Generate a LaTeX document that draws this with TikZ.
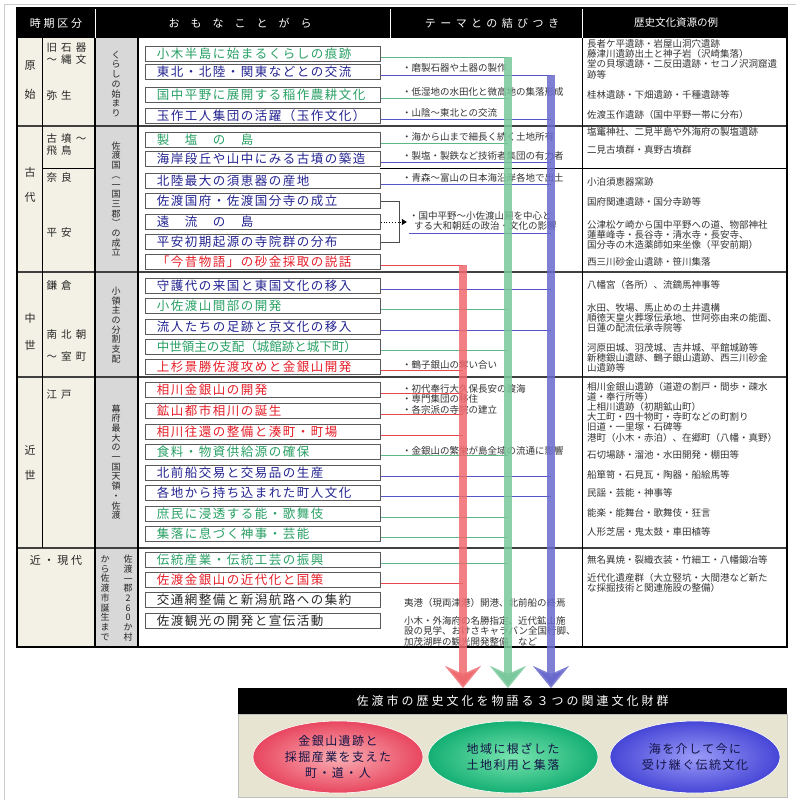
\documentclass[tikz,border=0pt]{standalone}
\usepackage{fontspec}
\setmainfont{Noto Sans CJK JP}
\newfontfamily\wa{Noto Sans CJK JP}[LetterSpace=12]
\newfontfamily\wb{Noto Sans CJK JP}[LetterSpace=25]
\newfontfamily\wc{Noto Sans CJK JP}[LetterSpace=40]
\usepackage{tikz}
\usetikzlibrary{arrows.meta,shapes.geometric}

\definecolor{txtgreen}{RGB}{40,160,100}
\definecolor{txtnavy}{RGB}{35,35,145}
\definecolor{txtred}{RGB}{230,30,40}
\definecolor{barred}{RGB}{238,105,110}
\definecolor{bargreen}{RGB}{120,200,155}
\definecolor{barblue}{RGB}{105,105,205}
\definecolor{lngreen}{RGB}{90,185,135}
\definecolor{lnblue}{RGB}{85,85,195}
\definecolor{lnred}{RGB}{230,70,75}
\definecolor{beige}{RGB}{243,241,229}
\definecolor{colgray}{RGB}{216,216,216}
\definecolor{boxgray}{RGB}{90,90,90}
\definecolor{panel}{RGB}{232,228,210}
\definecolor{darktxt}{RGB}{20,20,70}

\begin{document}
\begin{tikzpicture}[x=1pt,y=-1pt,
  item/.style={draw=boxgray,line width=0.8pt,fill=white,anchor=west,
    minimum height=15pt,text width=212pt,inner xsep=11.5pt,inner ysep=1pt,
    align=left,font=\wa\fontsize{12.5}{14}\selectfont},
  per/.style={font=\fontsize{11}{12}\selectfont,text=black!85},
  era/.style={anchor=west,align=left,font=\wc\fontsize{10.5}{12}\selectfont,text=black!85},
  theme/.style={align=center,font=\fontsize{9}{9.7}\selectfont,text=black!85,inner sep=0pt},
  note/.style={anchor=west,align=left,font=\fontsize{9.5}{10.5}\selectfont,text=black!80,inner sep=0pt},
  res/.style={anchor=west,align=left,font=\fontsize{9.5}{10.3}\selectfont,text=black!80,inner sep=0pt},
  hd/.style={text=white,font=\fontsize{10.5}{12}\selectfont},
  ln/.style={line width=0.6pt},
  themebar/.style={line width=8pt,draw opacity=0.85,-{Stealth[length=22pt,width=36pt,inset=8pt]}},
  rowline/.style={line width=1.3pt,draw=black!75},
  oval/.style={ellipse,minimum width=170pt,minimum height=72pt,inner sep=0pt,align=center,
    text=darktxt,font=\wa\fontsize{12}{16}\selectfont,draw=white,line width=0.6pt}
]
\useasboundingbox (0,0) rectangle (796,800);
\draw[black!20] (4,800) -- (4,4) -- (796,4);

% table
\fill[beige] (17,38) rectangle (95,647);
\fill[colgray] (95,38) rectangle (138,647);
\fill[black] (17,8) rectangle (787,38);
\draw[white,line width=1pt] (95,8) -- (95,38) (390,8) -- (390,38) (582,8) -- (582,38);
\node[hd,font=\wb\fontsize{11}{12}\selectfont] (h_1) at (56,23) {時期区分};
\node[hd,font=\fontsize{11}{12}\selectfont] (h_2) at (240,23) {お　も　な　こ　と　が　ら};
\node[hd,font=\wc\fontsize{11}{12}\selectfont] (h_3) at (492,23) {テーマとの結びつき};
\node[hd] (h_4) at (676,23) {歴史文化資源の例};

\draw[rowline] (17,126) -- (787,126) (17,272) -- (787,272) (17,377) -- (787,377) (17,548) -- (787,548);
\draw[line width=0.6pt] (42,38) -- (42,548) (42,168) -- (95,168) (380,168) -- (787,168);
\draw[line width=1.3pt] (95,38) -- (95,647) (138,38) -- (138,647);
\draw[line width=1pt] (582,38) -- (582,647);
\draw[line width=1.6pt] (17,8) rectangle (787,647);

% periods
\node[per] (p_1) at (30,66) {原};
\node[per] (p_2) at (30,94) {始};
\node[per] (p_3) at (30,172) {古};
\node[per] (p_4) at (30,197) {代};
\node[per] (p_5) at (30,318) {中};
\node[per] (p_6) at (30,345) {世};
\node[per] (p_7) at (30,450) {近};
\node[per] (p_8) at (30,475) {世};
\node[per,font=\wb\fontsize{11}{12}\selectfont] (p_9) at (56,560) {近・現代};

\node[era] (e_1) at (43,54) {旧石器\\～縄文};
\node[era] (e_2) at (43,95) {弥生};
\node[era] (e_3) at (43,145) {古墳～\\飛鳥};
\node[era] (e_4) at (43,178) {奈良};
\node[era] (e_5) at (43,233) {平安};
\node[era] (e_6) at (43,285) {鎌倉};
\node[era] (e_7) at (43,335) {南北朝};
\node[era] (e_8) at (43,357) {～室町};
\node[era] (e_9) at (43,395) {江戸};

\node[theme] (v_1) at (116,84) {く\\ら\\し\\の\\始\\ま\\り};
\node[theme] (v_2) at (116,199) {佐\\渡\\国\\︵\\一\\国\\三\\郡\\︶\\の\\成\\立};
\node[theme] (v_3) at (116,325) {小\\領\\主\\の\\分\\割\\支\\配};
\node[theme] (v_4) at (116,462) {幕\\府\\最\\大\\の\\一\\国\\天\\領\\・\\佐\\渡};
\node[theme] (v_5) at (128,598) {佐\\渡\\一\\郡\\2\\6\\0\\か\\村};
\node[theme] (v_6) at (105,598) {か\\ら\\佐\\渡\\市\\誕\\生\\ま\\で};

% bars x
\coordinate (xr) at (463,0);
\coordinate (xg) at (508,0);
\coordinate (xb) at (551,0);

% items
\node[item,text=txtgreen] (g1) at (145,54) {小木半島に始まるくらしの痕跡};
\node[item,text=txtnavy] (g2) at (145,72) {東北・北陸・関東などとの交流};
\node[item,text=txtgreen] (g3) at (145,95) {国中平野に展開する稲作農耕文化};
\node[item,text=txtnavy] (g4) at (145,116) {玉作工人集団の活躍（玉作文化）};

\node[item,text=txtgreen] (a1) at (145,140) {製　塩　の　島};
\node[item,text=txtnavy] (a2) at (145,159) {海岸段丘や山中にみる古墳の築造};
\node[item,text=txtnavy] (a3) at (145,181) {北陸最大の須恵器の産地};
\node[item,text=txtnavy] (a4) at (145,201) {佐渡国府・佐渡国分寺の成立};
\node[item,text=txtnavy] (a5) at (145,222) {遠　流　の　島};
\node[item,text=txtnavy] (a6) at (145,242) {平安初期起源の寺院群の分布};
\node[item,text=txtred] (a7) at (145,262) {「今昔物語」の砂金採取の説話};

\node[item,text=txtnavy] (m1) at (145,286) {守護代の来国と東国文化の移入};
\node[item,text=txtgreen] (m2) at (145,306) {小佐渡山間部の開発};
\node[item,text=txtnavy] (m3) at (145,327) {流人たちの足跡と京文化の移入};
\node[item,text=txtgreen,font=\fontsize{12.5}{14}\selectfont] (m4) at (145,347) {中世領主の支配（城館跡と城下町）};
\node[item,text=txtred] (m5) at (145,367) {上杉景勝佐渡攻めと金銀山開発};

\node[item,text=txtred] (s1) at (145,390) {相川金銀山の開発};
\node[item,text=txtred] (s2) at (145,411) {鉱山都市相川の誕生};
\node[item,text=txtred] (s3) at (145,432) {相川往還の整備と湊町・町場};
\node[item,text=txtgreen] (s4) at (145,452) {食料・物資供給源の確保};
\node[item,text=txtnavy] (s5) at (145,473) {北前船交易と交易品の生産};
\node[item,text=txtnavy] (s6) at (145,493) {各地から持ち込まれた町人文化};
\node[item,text=txtgreen] (s7) at (145,514) {庶民に浸透する能・歌舞伎};
\node[item,text=txtgreen] (s8) at (145,534) {集落に息づく神事・芸能};

\node[item,text=txtgreen] (k1) at (145,560) {伝統産業・伝統工芸の振興};
\node[item,text=txtred] (k2) at (145,580) {佐渡金銀山の近代化と国策};
\node[item,text=black!85] (k3) at (145,600) {交通網整備と新潟航路への集約};
\node[item,text=black!85] (k4) at (145,621) {佐渡観光の開発と宣伝活動};

% connectors to the bars
\draw[ln,lngreen] (g1.east) ++(0,3) coordinate (c) -- (c -| xg) coordinate (topg);
\draw[ln,lnblue] (g2.east) ++(0,3) coordinate (c) -- (c -| xb) coordinate (topb);
\draw[ln,lngreen] (g3.east) ++(0,3) coordinate (c) -- (c -| xg);
\draw[ln,lnblue] (g4.east) ++(0,3) coordinate (c) -- (c -| xb);
\draw[ln,lngreen] (a1.east) ++(0,3) coordinate (c) -- (c -| xg);
\draw[ln,lnblue] (a2.east) ++(0,3) coordinate (c) -- (c -| xb);
\draw[ln,lnblue] (a3.east) ++(0,3) coordinate (c) -- (c -| xb);
\draw[ln,lnred] (a7.east) ++(0,3) coordinate (c) -- (c -| xr) coordinate (topr);
\draw[ln,lnblue] (m1.east) ++(0,3) coordinate (c) -- (c -| xb);
\draw[ln,lngreen] (m2.east) ++(0,3) coordinate (c) -- (c -| xg);
\draw[ln,lnblue] (m3.east) ++(0,3) coordinate (c) -- (c -| xb);
\draw[ln,lngreen] (m4.east) ++(0,3) coordinate (c) -- (c -| xg);
\draw[ln,lnred] (m5.east) ++(0,3) coordinate (c) -- (c -| xr);
\draw[ln,lnred] (s1.east) ++(0,3) coordinate (c) -- (c -| xr);
\draw[ln,lnred] (s2.east) ++(0,3) coordinate (c) -- (c -| xr);
\draw[ln,lnred] (s3.east) ++(0,3) coordinate (c) -- (c -| xr);
\draw[ln,lngreen] (s4.east) ++(0,3) coordinate (c) -- (c -| xg);
\draw[ln,lnblue] (s5.east) ++(0,3) coordinate (c) -- (c -| xb);
\draw[ln,lnblue] (s6.east) ++(0,3) coordinate (c) -- (c -| xb);
\draw[ln,lngreen] (s7.east) ++(0,3) coordinate (c) -- (c -| xg);
\draw[ln,lngreen] (s8.east) ++(0,3) coordinate (c) -- (c -| xg);
\draw[ln,lngreen] (k1.east) ++(0,3) coordinate (c) -- (c -| xg);
\draw[ln,lnred] (k2.east) ++(0,3) coordinate (c) -- (c -| xr);

% bracket for the three ancient items
\draw[line width=0.6pt,black!70] (a4.east) -- ++(18,0) |- (a6.east);
\draw[dotted,line width=0.8pt,-{Triangle[length=5pt,width=6pt]}] (a5.east) -- ++(26,0);

% links to the themes
\node[note] (n_1) at (402,68) {・磨製石器や土器の製作};
\node[note] (n_2) at (402,92) {・低湿地の水田化と微高地の集落形成};
\node[note] (n_3) at (402,113) {・山陰～東北との交流};
\node[note] (n_4) at (402,137) {・海から山まで細長く続く土地所有};
\node[note] (n_5) at (402,156) {・製塩・製鉄など技術者集団の有力者};
\node[note] (n_6) at (402,178) {・青森～富山の日本海沿岸各地で出土};
\node[note] (n_7) at (409,221) {・国中平野～小佐渡山麓を中心と\\\hspace*{5pt}する大和朝廷の政治・文化の影響};
\draw[ln,lnblue] (n_7.south west) ++(0,2) coordinate (c) -- (c -| xb);
\node[note] (n_8) at (402,365) {・鶴子銀山の奪い合い};
\node[note] (n_9) at (402,399) {・初代奉行大久保長安の渡海\\・専門集団の移住\\・各宗派の寺院の建立};
\node[note] (n_10) at (402,451) {・金銀山の繁栄が島全域の流通に影響};
\node[note] (n_11) at (404,603) {夷港（現両津港）開港、北前船の終焉};
\node[note] (n_12) at (404,631) {小木・外海府の名勝指定、近代鉱山施\\設の見学、おけさキャラバン全国行脚、\\加茂湖畔の観光開発整備　など};

% examples
\node[res] (r_1) at (587,59) {長者ケ平遺跡・岩屋山洞穴遺跡\\藤津川遺跡出土と神子岩（沢崎集落）\\堂の貝塚遺跡・二反田遺跡・セコノ沢洞窟遺\\跡等};
\node[res] (r_2) at (587,95) {桂林遺跡・下畑遺跡・千種遺跡等};
\node[res] (r_3) at (587,115) {佐渡玉作遺跡（国中平野一帯に分布）};
\node[res] (r_4) at (587,132) {塩竃神社、二見半島や外海府の製塩遺跡};
\node[res] (r_5) at (587,150) {二見古墳群・真野古墳群};
\node[res] (r_6) at (587,182) {小泊須恵器窯跡};
\node[res] (r_7) at (587,202) {国府関連遺跡・国分寺跡等};
\node[res] (r_8) at (587,235) {公津松ケ崎から国中平野への道、物部神社\\蓮華峰寺・長谷寺・清水寺・長安寺、\\国分寺の木造薬師如来坐像（平安前期）};
\node[res] (r_9) at (587,262) {西三川砂金山遺跡・笹川集落};
\node[res] (r_10) at (587,285) {八幡宮（各所）、流鏑馬神事等};
\node[res] (r_11) at (587,318) {水田、牧場、馬止めの土井遺構\\順徳天皇火葬塚伝承地、世阿弥由来の能面、\\日蓮の配流伝承寺院等};
\node[res] (r_12) at (587,358) {河原田城、羽茂城、吉井城、平館城跡等\\新穂銀山遺跡、鶴子銀山遺跡、西三川砂金\\山遺跡等};
\node[res,font=\fontsize{9.5}{10.2}\selectfont] (r_13) at (587,412) {相川金銀山遺跡（道遊の割戸・間歩・疎水\\道・奉行所等）\\上相川遺跡（初期鉱山町）\\大工町・四十物町・寺町などの町割り\\旧道・一里塚・石碑等\\港町（小木・赤泊）、在郷町（八幡・真野）};
\node[res] (r_14) at (587,455) {石切場跡・溜池・水田開発・棚田等};
\node[res] (r_15) at (587,475) {船箪笥・石見瓦・陶器・船絵馬等};
\node[res] (r_16) at (587,493) {民謡・芸能・神事等};
\node[res] (r_17) at (587,513) {能楽・能舞台・歌舞伎・狂言};
\node[res] (r_18) at (587,532) {人形芝居・鬼太鼓・車田植等};
\node[res] (r_19) at (587,560) {無名異焼・裂織衣装・竹細工・八幡鍛冶等};
\node[res] (r_20) at (587,583) {近代化遺産群（大立竪坑・大間港など新た\\な採掘技術と関連施設の整備）};

% bottom
\node[fill=black,text=white,minimum width=549pt,minimum height=26pt,inner sep=0pt,anchor=north west,
  font=\wb\fontsize{12}{14}\selectfont] (band) at (238,688) {佐渡市の歴史文化を物語る３つの関連文化財群};
\node[fill=panel,draw=black!25,minimum width=549pt,minimum height=83pt,anchor=north west] (panel) at (238,714) {};
\node[oval,inner color={rgb,255:red,250;green,175;blue,180},outer color={rgb,255:red,232;green,70;blue,95}] (o_1) at (338,757) {金銀山遺跡と\\採掘産業を支えた\\町・道・人};
\node[oval,inner color={rgb,255:red,120;green,228;blue,175},outer color={rgb,255:red,20;green,175;blue,115}] (o_2) at (513,757) {地域に根ざした\\土地利用と集落};
\node[oval,inner color={rgb,255:red,155;green,155;blue,248},outer color={rgb,255:red,70;green,70;blue,215}] (o_3) at (695,757) {海を介して今に\\受け継ぐ伝統文化};

% three bars
\draw[themebar,barred] (topr) -- (xr |- band.north);
\draw[themebar,bargreen] (topg) -- (xg |- band.north);
\draw[themebar,barblue] (topb) -- (xb |- band.north);
\end{tikzpicture}
\end{document}
